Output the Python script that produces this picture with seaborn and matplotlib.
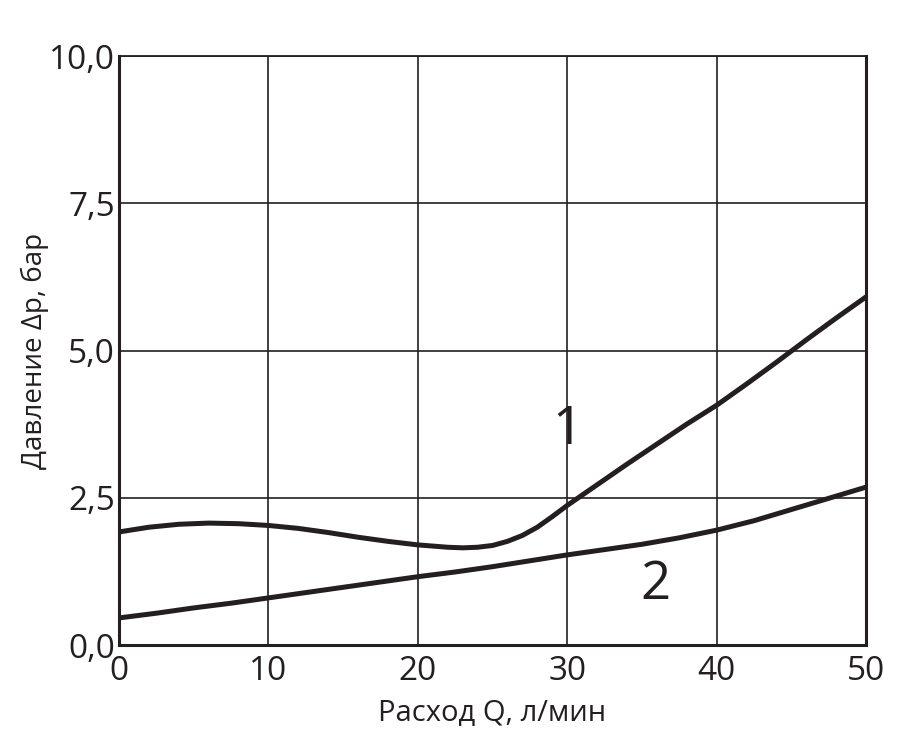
import matplotlib
matplotlib.use("Agg")
import matplotlib.pyplot as plt
import seaborn as sns
import pandas as pd

# --- Data ---
q_curve1 = [0, 2, 4, 6, 8, 10, 12, 14, 16, 18, 20, 22, 23, 24, 25, 26, 27, 28, 29, 30, 32, 34, 36, 38, 40,
            42, 44, 46, 48, 50]
dp_curve1 = [1.92, 2.00, 2.05, 2.07, 2.06, 2.03, 1.98, 1.91, 1.83, 1.76, 1.70, 1.66, 1.65, 1.66, 1.69, 1.76,
             1.86, 2.00, 2.18, 2.37, 2.72, 3.07, 3.41, 3.75, 4.07, 4.43, 4.80, 5.18, 5.55, 5.91]

q_curve2 = [0, 2.5, 5, 7.5, 10, 12.5, 15, 17.5, 20, 22.5, 25, 27.5, 30, 32.5, 35, 37.5, 40, 42.5, 45, 47.5, 50]
dp_curve2 = [0.46, 0.54, 0.63, 0.71, 0.80, 0.89, 0.98, 1.07, 1.16, 1.24, 1.33, 1.43, 1.53, 1.62, 1.71, 1.82,
             1.95, 2.11, 2.30, 2.49, 2.68]

x_ticks = [0, 10, 20, 30, 40, 50]
y_ticks = [0.0, 2.5, 5.0, 7.5, 10.0]
y_tick_labels = ["0,0", "2,5", "5,0", "7,5", "10,0"]

curve_labels = ["1", "2"]
label_pos = [(30.0, 3.65), (35.9, 1.02)]

sns.set_style("white")
plt.rcParams["font.family"] = ["Open Sans", "DejaVu Sans"]
ink = "#231f20"

df1 = pd.DataFrame({"Q": q_curve1, "dp": dp_curve1})
df2 = pd.DataFrame({"Q": q_curve2, "dp": dp_curve2})

fig = plt.figure(figsize=(9.19, 7.42), dpi=100)
ax = fig.add_axes([0.1295, 0.1307, 0.8128, 0.7938])

sns.lineplot(data=df1, x="Q", y="dp", ax=ax, color=ink, linewidth=3.6, sort=False)
sns.lineplot(data=df2, x="Q", y="dp", ax=ax, color=ink, linewidth=3.6, sort=False)

ax.set_xlim(0, 50)
ax.set_ylim(0, 10)
ax.set_xticks(x_ticks)
ax.set_xticklabels([str(t) for t in x_ticks])
ax.set_yticks(y_ticks)
ax.set_yticklabels(y_tick_labels)
ax.tick_params(axis="both", length=0, labelsize=24, colors=ink)
ax.tick_params(axis="x", pad=7)
ax.tick_params(axis="y", pad=3)

ax.grid(True, color=ink, linewidth=1.2)
for side in ["left", "bottom", "right"]:
    ax.spines[side].set_color(ink)
    ax.spines[side].set_linewidth(2.2)
ax.spines["top"].set_color(ink)
ax.spines["top"].set_linewidth(1.3)

ax.set_xlabel("Расход Q, л/мин", fontsize=21, color=ink, labelpad=8)
ax.set_ylabel("Давление Δр, бар", fontsize=20, color=ink, labelpad=0)

for txt, (qx, py) in zip(curve_labels, label_pos):
    ax.text(qx, py, txt, fontsize=38, color=ink, ha="center", va="center")

fig.savefig("out.png", dpi=100)
